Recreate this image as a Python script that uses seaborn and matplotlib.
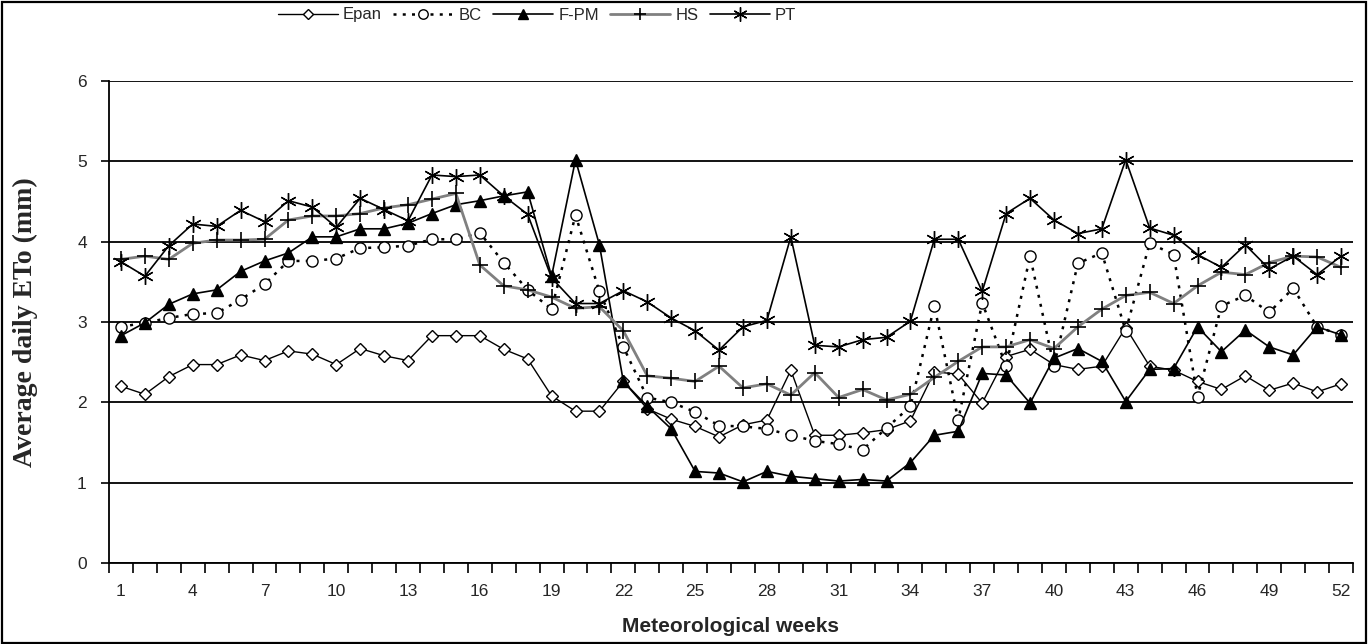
import matplotlib
matplotlib.use("Agg")
import matplotlib.pyplot as plt
import seaborn as sns
import numpy as np
import pandas as pd
from matplotlib.lines import Line2D
from matplotlib.patches import Rectangle
from matplotlib.ticker import FixedLocator

# ---------------- data ----------------
weeks = list(range(1, 53))

epan = [2.20, 2.10, 2.32, 2.47, 2.47, 2.59, 2.52, 2.64, 2.60, 2.47,
        2.67, 2.58, 2.52, 2.83, 2.83, 2.83, 2.66, 2.54, 2.08, 1.89,
        1.89, 2.26, 1.92, 1.79, 1.70, 1.57, 1.72, 1.78, 2.40, 1.59,
        1.59, 1.62, 1.66, 1.77, 2.38, 2.35, 1.99, 2.57, 2.66, 2.47,
        2.41, 2.45, 2.93, 2.45, 2.40, 2.26, 2.16, 2.33, 2.15, 2.24,
        2.13, 2.23]

bc = [2.94, 2.99, 3.05, 3.10, 3.11, 3.28, 3.47, 3.76, 3.76, 3.79,
      3.92, 3.93, 3.95, 4.03, 4.03, 4.11, 3.74, 3.40, 3.16, 4.33,
      3.38, 2.69, 2.06, 2.00, 1.88, 1.71, 1.70, 1.67, 1.59, 1.52,
      1.48, 1.41, 1.68, 1.95, 3.20, 1.78, 3.24, 2.45, 3.82, 2.45,
      3.73, 3.86, 2.89, 3.98, 3.84, 2.07, 3.20, 3.33, 3.12, 3.42,
      2.94, 2.84]

fpm = [2.83, 2.99, 3.22, 3.35, 3.40, 3.63, 3.76, 3.86, 4.06, 4.06,
       4.16, 4.16, 4.23, 4.35, 4.46, 4.51, 4.57, 4.62, 3.57, 5.02,
       3.96, 2.26, 1.95, 1.67, 1.14, 1.12, 1.01, 1.14, 1.08, 1.05,
       1.02, 1.04, 1.02, 1.25, 1.59, 1.64, 2.36, 2.34, 1.99, 2.55,
       2.67, 2.51, 2.01, 2.41, 2.42, 2.94, 2.63, 2.90, 2.69, 2.59,
       2.94, 2.84]

hs = [3.78, 3.82, 3.78, 3.98, 4.02, 4.02, 4.03, 4.27, 4.32, 4.32,
      4.35, 4.42, 4.46, 4.53, 4.60, 3.71, 3.45, 3.40, 3.31, 3.17,
      3.19, 2.89, 2.33, 2.30, 2.26, 2.45, 2.18, 2.23, 2.09, 2.37,
      2.06, 2.16, 2.03, 2.10, 2.31, 2.51, 2.69, 2.69, 2.78, 2.67,
      2.94, 3.16, 3.33, 3.37, 3.23, 3.45, 3.62, 3.59, 3.74, 3.82,
      3.81, 3.68]

pt = [3.75, 3.57, 3.95, 4.22, 4.19, 4.39, 4.25, 4.51, 4.43, 4.18,
      4.54, 4.40, 4.26, 4.83, 4.81, 4.83, 4.57, 4.34, 3.55, 3.23,
      3.23, 3.39, 3.25, 3.05, 2.89, 2.65, 2.94, 3.02, 4.06, 2.71,
      2.69, 2.78, 2.81, 3.01, 4.03, 4.03, 3.38, 4.35, 4.54, 4.27,
      4.10, 4.16, 5.02, 4.17, 4.08, 3.84, 3.68, 3.96, 3.66, 3.82,
      3.59, 3.82]

series_names = ["Epan", "BC", "F-PM", "HS", "PT"]
xtick_weeks = list(range(1, 53, 3))
ytick_values = [0, 1, 2, 3, 4, 5, 6]
x_title = "Meteorological weeks"
y_title = "Average daily ETo (mm)"

# ---------------- style ----------------
sns.set_style("white")
plt.rcParams["font.family"] = ["Liberation Sans", "DejaVu Sans"]

fig = plt.figure(figsize=(13.68, 6.44), dpi=100)
ax = fig.add_axes([109 / 1368, 1 - 563 / 644, (1353 - 109) / 1368, (563 - 81) / 644])

styles = {
    "Epan": dict(color="black", lw=1.0, ls="-", marker="D", ms=6,
                 mfc="white", mec="black", mew=1.0),
    "BC": dict(color="black", lw=1.8, ls=(0, (1.2, 2.5)), marker="o", ms=8,
               mfc="white", mec="black", mew=1.0),
    "F-PM": dict(color="black", lw=1.2, ls="-", marker="^", ms=9,
                 mfc="black", mec="black", mew=1.0),
    "HS": dict(color="#808080", lw=2.0, ls="-", marker="+", ms=11,
               mfc="black", mec="black", mew=1.2),
    "PT": dict(color="black", lw=1.2, ls="-", marker=(6, 2, 0), ms=12,
               mfc="black", mec="black", mew=1.0),
}

data = {"Epan": epan, "BC": bc, "F-PM": fpm, "HS": hs, "PT": pt}

for name in series_names:
    st = styles[name]
    sns.lineplot(x=weeks, y=data[name], ax=ax, color=st["color"],
                 linewidth=st["lw"], linestyle=st["ls"], marker=st["marker"],
                 markersize=st["ms"], markerfacecolor=st["mfc"],
                 markeredgecolor=st["mec"], markeredgewidth=st["mew"],
                 legend=False, zorder=3)

ax.set_xlim(0.5, 52.5)
ax.set_ylim(0, 6)

# axes decoration
for s in ["top", "right"]:
    ax.spines[s].set_visible(False)
for s in ["left", "bottom"]:
    ax.spines[s].set_color("black")
    ax.spines[s].set_linewidth(1.3)

ax.yaxis.grid(True, color="black", linewidth=1.3)
ax.xaxis.grid(False)
ax.set_axisbelow(True)

ax.set_yticks(ytick_values)
ax.set_yticklabels([str(v) for v in ytick_values])
ax.tick_params(axis="y", which="major", direction="out", length=6, width=1.2,
               color="black", labelsize=12.5, pad=10, left=True)

ax.set_xticks(xtick_weeks)
ax.set_xticklabels([str(w) for w in xtick_weeks])
ax.xaxis.set_minor_locator(FixedLocator(np.arange(0.5, 53, 1.0)))
ax.tick_params(axis="x", which="major", length=0, labelsize=12.5, pad=15)
ax.tick_params(axis="x", which="minor", direction="out", length=7, width=1.2,
               color="black", bottom=True)

ax.set_xlabel(x_title, fontsize=15, fontweight="bold", labelpad=13)
ax.set_ylabel(y_title, fontsize=20, fontweight="bold",
              family=["Liberation Serif", "DejaVu Serif"], labelpad=28)

# legend
handles = []
for name in series_names:
    st = styles[name]
    handles.append(Line2D([0], [0], color=st["color"], lw=st["lw"], ls=st["ls"],
                          marker=st["marker"], ms=st["ms"] * 0.85, mfc=st["mfc"],
                          mec=st["mec"], mew=st["mew"]))
fig.legend(handles, series_names, loc="center",
           bbox_to_anchor=(537 / 1368, 1 - 15 / 644), ncol=5, frameon=False,
           handlelength=3.6, columnspacing=0.7, handletextpad=0.3,
           fontsize=12)

# figure border
fig.patches.append(Rectangle((0.0015, 0.002), 0.997, 0.995,
                             transform=fig.transFigure, fill=False,
                             lw=1.6, ec="black"))

fig.savefig("out.png", dpi=100)
